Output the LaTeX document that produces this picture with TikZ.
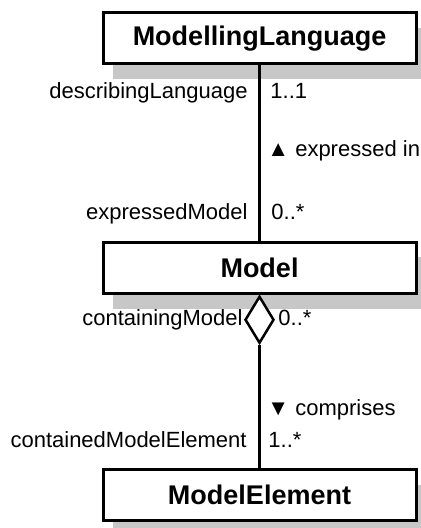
\documentclass[tikz,border=0pt]{standalone}
\usepackage{fontspec}
\setmainfont{Liberation Sans}
\usetikzlibrary{shapes.geometric, shadows}

\begin{document}
\begin{tikzpicture}[x=0.5pt, y=-0.5pt,
    cls/.style={draw, line width=1.5pt, fill=white, minimum width=156.5pt, minimum height=25.5pt, font=\fontsize{13.5}{16}\selectfont\bfseries, drop shadow={shadow xshift=4.75pt, shadow yshift=-7.5pt, fill=black!22, opacity=1}},
    role/.style={inner sep=0pt, font=\fontsize{11}{13}\selectfont},
    assoc/.style={line width=1.25pt},
    agg/.style={draw, diamond, line width=1.25pt, fill=white, inner sep=0pt, minimum width=14.5pt, minimum height=23.5pt}
]
\useasboundingbox (0,0) rectangle (421,528);
% classes
\node[cls] (lang) at (259.5,38.5) {ModellingLanguage};
\node[cls] (model) at (259.5,268) {Model};
\node[cls] (elem) at (259.5,495) {ModelElement};
\node[agg, anchor=north] (agg) at (model.south) {};
% --- Associations ---
\draw[assoc] (lang) -- (model);
\draw[assoc] (agg) -- (elem);
% ends of the first association
\node[role, anchor=base east] (descr) at (248,99) {describingLanguage};
\node[role, anchor=base west] (descrmult) at (270,99) {1..1};
\node[role, anchor=base west] (exprname) at (267,157) {▲ expressed in};
\node[role, anchor=base east] (expr) at (248,220) {expressedModel};
\node[role, anchor=base west] (exprmult) at (271,220) {0..*};
% ends of the aggregation
\node[role, anchor=base east] (cont) at (243,325) {containingModel};
\node[role, anchor=base west] (contmult) at (278,325) {0..*};
\node[role, anchor=base west] (compname) at (267,415) {▼ comprises};
\node[role, anchor=base east] (elemrole) at (247,447) {containedModelElement};
\node[role, anchor=base west] (elemmult) at (268,447) {1..*};
\end{tikzpicture}
\end{document}
